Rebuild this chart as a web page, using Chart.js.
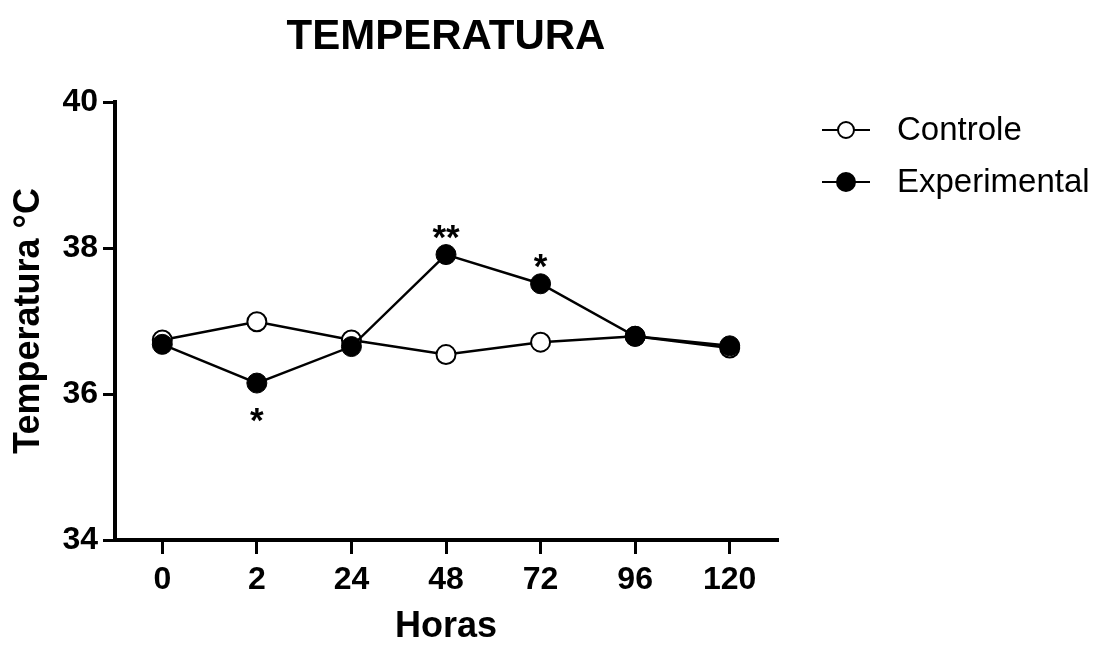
<!DOCTYPE html>
<html>
<head>
<meta charset="utf-8">
<style>
  html, body { margin: 0; padding: 0; background: #ffffff; }
  #wrap { width: 1107px; height: 645px; }
</style>
<script src="https://cdn.jsdelivr.net/npm/chart.js@4/dist/chart.umd.min.js"></script>
</head>
<body>
<div id="wrap"><canvas id="c" width="1107" height="645"></canvas></div>
<script>
const categories = ['0', '2', '24', '48', '72', '96', '120'];
const controle = [36.74, 36.99, 36.74, 36.54, 36.71, 36.79, 36.63];
const experimental = [36.68, 36.15, 36.65, 37.91, 37.51, 36.79, 36.66];
const yTicks = [34, 36, 38, 40];
const seriesNames = ['Controle', 'Experimental'];
const chartTitle = 'TEMPERATURA';
const significance = [
  { index: 1, text: '*', side: 'below' },
  { index: 3, text: '**', side: 'above' },
  { index: 4, text: '*', side: 'above' }
];

const FONT = "'Liberation Sans', Arial, Helvetica, sans-serif";

const annotationPlugin = {
  id: 'annot',
  afterDatasetsDraw(chart) {
    const ctx = chart.ctx;
    const meta = chart.getDatasetMeta(1);
    ctx.save();
    ctx.fillStyle = '#000';
    ctx.font = 'bold 35px ' + FONT;
    ctx.textAlign = 'center';
    ctx.textBaseline = 'alphabetic';
    significance.forEach(s => {
      const p = meta.data[s.index];
      const cy = s.side === 'below' ? p.y + 29 : p.y - 26;
      ctx.fillText(s.text, p.x, cy + 20);
    });
    ctx.restore();
  },
  afterDraw(chart) {
    const ctx = chart.ctx;
    const area = chart.chartArea;
    ctx.save();
    // title centred over the plot area
    ctx.fillStyle = '#000';
    ctx.font = 'bold 42px ' + FONT;
    ctx.textAlign = 'center';
    ctx.textBaseline = 'middle';
    ctx.fillText(chartTitle, (area.left + area.right) / 2, 37);

    const rows = [
      { y: 130, fill: '#ffffff' },
      { y: 182, fill: '#000000' }
    ];
    rows.forEach((r, i) => {
      ctx.strokeStyle = '#000';
      ctx.lineWidth = 2;
      ctx.beginPath();
      ctx.moveTo(822, r.y);
      ctx.lineTo(870, r.y);
      ctx.stroke();
      ctx.beginPath();
      ctx.arc(846, r.y, i === 0 ? 8 : 9, 0, Math.PI * 2);
      ctx.fillStyle = r.fill;
      ctx.fill();
      ctx.lineWidth = 2;
      ctx.stroke();
      ctx.fillStyle = '#000';
      ctx.font = '33px ' + FONT;
      ctx.textAlign = 'left';
      ctx.textBaseline = 'middle';
      ctx.fillText(seriesNames[i], 897, r.y + 1);
    });
    ctx.restore();
  }
};

new Chart(document.getElementById('c'), {
  type: 'line',
  data: {
    labels: categories,
    datasets: [
      {
        label: seriesNames[0],
        data: controle,
        borderColor: '#000',
        borderWidth: 2.5,
        pointRadius: 9.5,
        pointBorderWidth: 2,
        pointBackgroundColor: '#ffffff',
        pointBorderColor: '#000',
        tension: 0,
        order: 1
      },
      {
        label: seriesNames[1],
        data: experimental,
        borderColor: '#000',
        borderWidth: 2.5,
        pointRadius: 10,
        pointBorderWidth: 1,
        pointBackgroundColor: '#000',
        pointBorderColor: '#000',
        tension: 0,
        order: 0
      }
    ]
  },
  options: {
    responsive: false,
    animation: false,
    devicePixelRatio: 1,
    layout: { padding: { left: 0, right: 330, top: 102, bottom: 0 } },
    plugins: {
      legend: { display: false },
      tooltip: { enabled: false },
      title: { display: false }
    },
    scales: {
      x: {
        type: 'category',
        offset: true,
        grid: {
          display: true,
          drawOnChartArea: false,
          drawTicks: true,
          tickLength: 14,
          tickWidth: 3,
          color: '#000',
          lineWidth: 3
        },
        border: { display: true, color: '#000', width: 4 },
        ticks: {
          color: '#000',
          font: { family: FONT, size: 32, weight: 'bold' },
          padding: 7,
          maxRotation: 0
        },
        title: {
          display: true,
          text: 'Horas',
          color: '#000',
          font: { family: FONT, size: 36, weight: 'bold', lineHeight: 1 },
          padding: { top: 0, bottom: 0 }
        },
        afterFit(scale) { scale.height = 105; }
      },
      y: {
        min: 34,
        max: 40,
        afterBuildTicks(scale) { scale.ticks = yTicks.map(v => ({ value: v })); },
        grid: {
          display: true,
          drawOnChartArea: false,
          drawTicks: true,
          tickLength: 12,
          tickWidth: 3,
          color: '#000',
          lineWidth: 3
        },
        border: { display: true, color: '#000', width: 4 },
        ticks: {
          color: '#000',
          font: { family: FONT, size: 32, weight: 'bold' },
          padding: 5
        },
        title: {
          display: true,
          text: 'Temperatura °C',
          color: '#000',
          font: { family: FONT, size: 36, weight: 'bold', lineHeight: 1 },
          padding: { top: 11, bottom: 0 }
        },
        afterFit(scale) { scale.width = 115; }
      }
    }
  },
  plugins: [annotationPlugin]
});
</script>
</body>
</html>
